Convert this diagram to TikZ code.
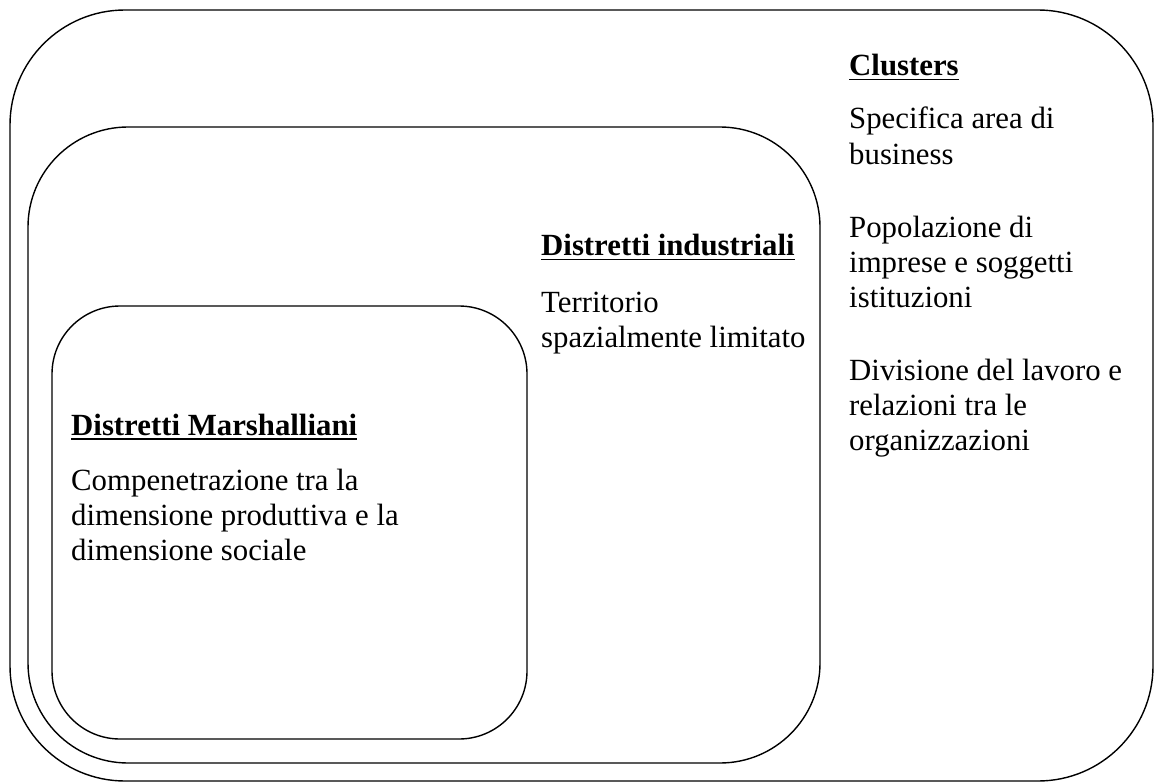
\documentclass[tikz,border=0pt]{standalone}
\usepackage{fontspec}
\setmainfont{Liberation Serif}
\newcommand\myul[1]{\setbox0\hbox{#1}\rlap{\rule[-4.5pt]{\wd0}{1.8pt}}\box0}
\begin{document}
\begin{tikzpicture}[x=1pt,y=-1pt,
  frame/.style={draw=black,line width=1.4pt},
  txt/.style={anchor=base west,inner sep=0pt,align=left,font=\fontsize{30.8}{35.3}\selectfont},
  head/.style={anchor=base west,inner sep=0pt,font=\fontsize{30.8}{35.3}\selectfont\bfseries}]
\useasboundingbox (0,0) rectangle (1155,783);
% outer: Clusters
\draw[frame,rounded corners=115pt] (10,10) rectangle (1153,781);
% middle: Distretti industriali
\draw[frame,rounded corners=100pt] (28,127) rectangle (820,763);
% inner: Distretti Marshalliani
\draw[frame,rounded corners=68pt] (52,306) rectangle (527,739);

% the base anchor of a multi-line node is the baseline of its last line
\node[head] (clh) at (849,76) {\myul{Clusters}};
\node[txt] (cl1) at (849,164.3) {Specifica area di\\business};
\node[txt] (cl2) at (849,307.6) {Popolazione di\\imprese e soggetti\\istituzioni};
\node[txt] (cl3) at (849,450.6) {Divisione del lavoro e\\relazioni tra le\\organizzazioni};

\node[head] (dih) at (541,256) {\myul{Distretti industriali}};
\node[txt] (di1) at (541,347.3) {Territorio\\spazialmente limitato};

\node[head] (dmh) at (71,435) {\myul{Distretti Marshalliani}};
\node[txt] (dm1) at (71,560.6) {Compenetrazione tra la\\dimensione produttiva e la\\dimensione sociale};
\end{tikzpicture}
\end{document}
